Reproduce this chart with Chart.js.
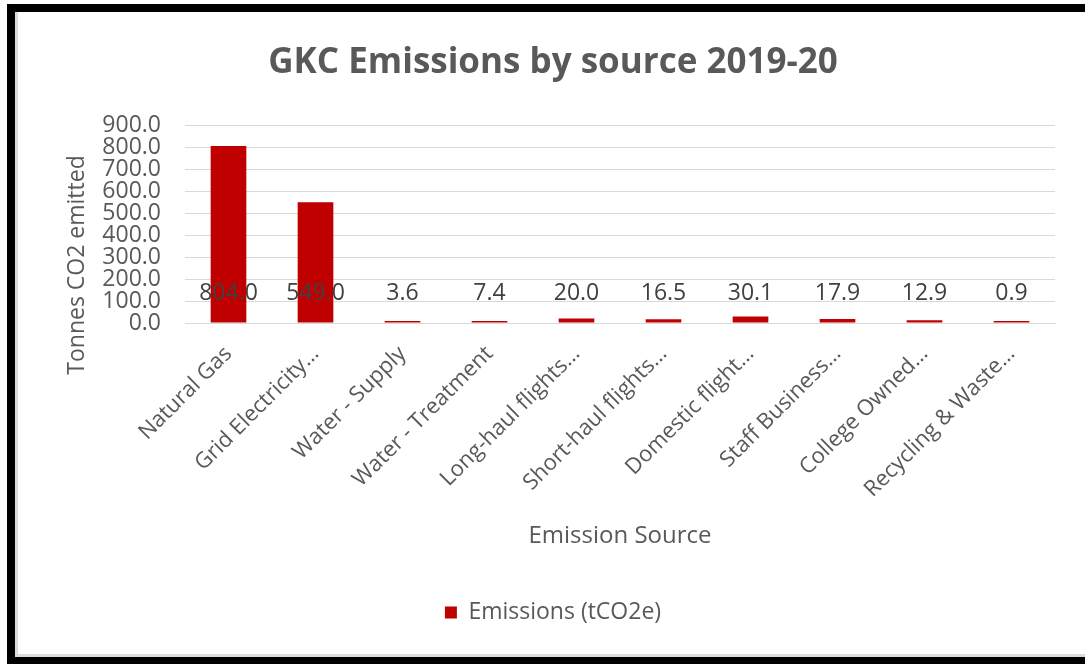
<!DOCTYPE html>
<html>
<head>
<meta charset="utf-8">
<script src="https://cdn.jsdelivr.net/npm/chart.js@4"></script>
<style>
    html, body { margin: 0; padding: 0; background: #fff; }
    body { width: 1085px; height: 664px; position: relative; overflow: hidden; }
    #frame {
        position: absolute; left: 7px; top: 4px; width: 1100px; height: 645px;
        border-left: 8px solid #000; border-top: 8px solid #000; border-bottom: 7px solid #000;
        box-shadow: inset 3px -3px 0 #dcdcdc;
        pointer-events: none;
    }
    #wrap { position: absolute; left: 0; top: 0; width: 1085px; height: 664px; }
</style>
</head>
<body>
<div id="wrap"><canvas id="emissionsChart"></canvas></div>
<div id="frame"></div>
<script>
// emission sources as the (truncated) axis labels show them
const sources = [
    'Natural Gas',
    'Grid Electricity…',
    'Water - Supply',
    'Water - Treatment',
    'Long-haul flights…',
    'Short-haul flights…',
    'Domestic flight…',
    'Staff Business…',
    'College Owned…',
    'Recycling & Waste…'
];
const emissions = [804.0, 549.0, 3.6, 7.4, 20.0, 16.5, 30.1, 17.9, 12.9, 0.9];
const yTicks = [0, 100, 200, 300, 400, 500, 600, 700, 800, 900];
const yTitle = 'Tonnes CO2 emitted';

const textGrey = '#595959';
const barRed = '#C00000';
const fontFamily = '"Open Sans", sans-serif';

// Excel-style value labels, drawn at a fixed height above the axis,
// plus the y axis title (Excel puts it lower than the axis middle)
const valueLabels = {
    id: 'valueLabels',
    afterDatasetsDraw(chart) {
        const ctx = chart.ctx;
        const yScale = chart.scales.y;
        const baseY = yScale.getPixelForValue(0) - 30;
        const meta = chart.getDatasetMeta(0);
        ctx.save();
        ctx.font = '23px ' + fontFamily;
        ctx.fillStyle = '#404040';
        ctx.textAlign = 'center';
        ctx.textBaseline = 'middle';
        meta.data.forEach((bar, i) => {
            ctx.fillText(emissions[i].toFixed(1), bar.x, baseY);
        });
        ctx.restore();

        ctx.save();
        ctx.translate(77, yScale.getPixelForValue(0) - 58);
        ctx.rotate(-Math.PI / 2);
        ctx.font = '23px ' + fontFamily;
        ctx.fillStyle = textGrey;
        ctx.textAlign = 'center';
        ctx.textBaseline = 'middle';
        ctx.fillText(yTitle, 0, 0);
        ctx.restore();
    }
};

const ctx = document.getElementById('emissionsChart').getContext('2d');
const emissionsChart = new Chart(ctx, {
    type: 'bar',
    data: {
        labels: sources,
        datasets: [{
            label: 'Emissions (tCO2e)',
            data: emissions,
            backgroundColor: barRed,
            borderWidth: 0,
            minBarLength: 2,
            barPercentage: 0.82,
            categoryPercentage: 0.5
        }]
    },
    options: {
        responsive: true,
        maintainAspectRatio: false,
        animation: false,
        layout: { padding: { left: 51, right: 30, top: 0, bottom: 30 } },
        plugins: {
            title: {
                display: true,
                text: 'GKC Emissions by source 2019-20',
                color: textGrey,
                font: { family: fontFamily, size: 35, weight: 'bold' },
                padding: { top: 42, bottom: 41 }
            },
            legend: {
                position: 'bottom',
                labels: {
                    color: textGrey,
                    font: { family: fontFamily, size: 23 },
                    boxWidth: 12,
                    boxHeight: 12,
                    padding: 10
                }
            },
            tooltip: { enabled: false }
        },
        scales: {
            x: {
                grid: { display: false },
                border: { color: '#d9d9d9', width: 1 },
                ticks: {
                    color: textGrey,
                    font: { family: fontFamily, size: 22 },
                    minRotation: 45,
                    maxRotation: 45,
                    autoSkip: false,
                    padding: 10
                },
                title: {
                    display: true,
                    text: 'Emission Source',
                    color: textGrey,
                    font: { family: fontFamily, size: 24 },
                    padding: { top: 4, bottom: 40 }
                },
                afterFit(scale) { scale.height = 268; }
            },
            y: {
                min: 0,
                max: 900,
                afterBuildTicks(scale) { scale.ticks = yTicks.map(v => ({ value: v })); },
                grid: { color: '#d9d9d9', drawTicks: false },
                border: { display: false },
                ticks: {
                    color: textGrey,
                    font: { family: fontFamily, size: 23, lineHeight: 0.95 },
                    autoSkip: false,
                    padding: 24,
                    callback: v => Number(v).toFixed(1)
                },
                afterFit(scale) { scale.width = 134; }
            }
        }
    },
    plugins: [valueLabels]
});
</script>
</body>
</html>
